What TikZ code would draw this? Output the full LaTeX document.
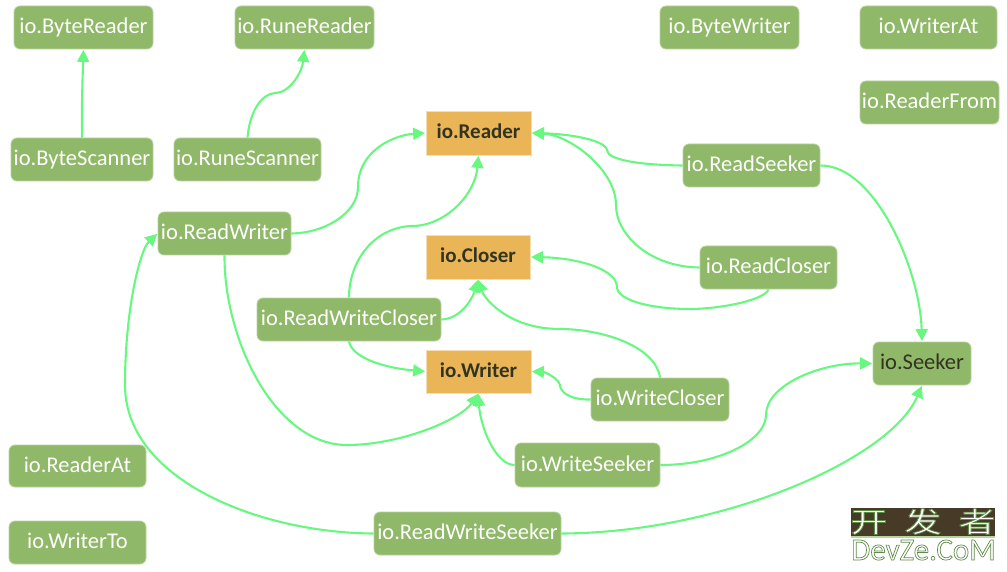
\documentclass[tikz,border=0pt]{standalone}
\usepackage{fontspec}
\usetikzlibrary{arrows.meta}
\setmainfont{Carlito}
\newfontfamily\cjkf{Noto Sans CJK SC}
\definecolor{grn}{HTML}{8FB868}
\definecolor{grnb}{HTML}{B9D3A0}
\definecolor{org}{HTML}{E9B556}
\definecolor{orgb}{HTML}{F4DDB0}
\definecolor{conn}{HTML}{68F880}
\definecolor{ink}{HTML}{333322}
\definecolor{wmb}{HTML}{473A26}
\definecolor{wmg}{HTML}{5F8C48}
\newcommand{\outl}{\special{pdf:code 2 Tr 0.7 w 0.37 0.55 0.28 RG}}
\tikzset{
  iface/.style={fill=grn,draw=grnb,line width=0.8pt,rounded corners=6pt,inner sep=0pt,text=white,font=\fontsize{22.5}{22.5}\selectfont},
  core/.style={fill=org,draw=orgb,line width=0.8pt,inner sep=0pt,text=ink,font=\bfseries\fontsize{21}{21}\selectfont},
  seek/.style={iface,text=ink},
  link/.style={draw=conn,line width=2.1pt,-{Triangle[length=12pt,width=12pt]},shorten >=0.5pt},
}
% name, x1, y1, x2, y2, style, text
\newcommand{\bx}[7]{\node[#6,minimum width={(#4-#2)*1pt},minimum height={(#5-#3)*1pt}] (#1) at ({(#2+#4)/2},{(#3+#5)/2}) {\raisebox{3pt}{#7}};}
\begin{document}
\begin{tikzpicture}[x=1pt,y=-1pt]
\useasboundingbox (0,0) rectangle (1007,572);
\bx{bytereader}{14}{6}{153}{49}{iface}{io.ByteReader}
\bx{runereader}{235}{6}{374}{49}{iface}{io.RuneReader}
\bx{bytewriter}{660}{6}{799}{49}{iface}{io.ByteWriter}
\bx{writerat}{860}{6}{997}{49}{iface}{io.WriterAt}
\bx{readerfrom}{860}{81}{999}{124}{iface}{io.ReaderFrom}
\bx{bytescanner}{11}{138}{153}{181}{iface}{io.ByteScanner}
\bx{runescanner}{174}{138}{321}{181}{iface}{io.RuneScanner}
\bx{readwriter}{158}{212}{291}{255}{iface}{io.ReadWriter}
\bx{readseeker}{683}{144}{820}{187}{iface}{io.ReadSeeker}
\bx{readcloser}{700}{246}{837}{289}{iface}{io.ReadCloser}
\bx{reader}{426}{111}{531}{155}{core}{io.Reader}
\bx{closer}{426}{235}{530}{279}{core}{io.Closer}
\bx{writer}{426}{350}{531}{393}{core}{io.Writer}
\bx{rwcloser}{257}{298}{441}{341}{iface}{io.ReadWriteCloser}
\bx{writecloser}{591}{378}{729}{421}{iface}{io.WriteCloser}
\bx{writeseeker}{515}{443}{660}{487}{iface}{io.WriteSeeker}
\bx{rwseeker}{374}{512}{561}{555}{iface}{io.ReadWriteSeeker}
\bx{readerat}{9}{445}{146}{487}{iface}{io.ReaderAt}
\bx{writerto}{9}{521}{146}{564}{iface}{io.WriterTo}
\bx{seeker}{873}{342}{971}{385}{seek}{io.Seeker}
% connectors
\draw[link] (bytescanner.north) .. controls (81.5,110) and (82.5,80) .. (bytereader.south);
\draw[link] (runescanner.north) .. controls (250,110) and (262,94) .. (275,93) .. controls (290,93) and (302,72) .. (runereader.south);
\draw[link] (readwriter.east) .. controls (325,233) and (358,213) .. (358,187) .. controls (358,150) and (395,135) .. (reader.west);
\draw[link] (rwcloser.north) .. controls (349,260) and (375,227) .. (412,226) .. controls (445,226) and (475,195) .. (reader.south);
\draw[link] (rwcloser.east) .. controls (460,319) and (472,300) .. (closer.south);
\draw[link] (rwcloser.south) .. controls (352,358) and (385,368) .. (writer.west);
\draw[link] (readwriter.south) .. controls (224,340) and (275,445) .. (347,445) .. controls (400,445) and (460,420) .. (writer.south);
\draw[link] (rwseeker.west) .. controls (260,533) and (125,480) .. (125,385) .. controls (125,310) and (140,250) .. (readwriter.west);
\draw[link] (rwseeker.east) .. controls (720,533) and (890,460) .. (seeker.south);
\draw[link] (readseeker.west) .. controls (640,165) and (607,160) .. (607,150) .. controls (605,140) and (570,134) .. (reader.east);
\draw[link] (readcloser.west) .. controls (650,267) and (616,235) .. (616,205) .. controls (616,170) and (570,135) .. (reader.east);
\draw[link] (readseeker.east) .. controls (875,165) and (920,270) .. (seeker.north);
\draw[link] (readcloser.south) .. controls (765,300) and (720,309) .. (690,309) .. controls (650,309) and (617,300) .. (617,287) .. controls (617,270) and (580,258) .. (closer.east);
\draw[link] (writecloser.north) .. controls (655,345) and (600,329) .. (560,329) .. controls (510,329) and (485,300) .. (closer.south);
\draw[link] (writecloser.west) .. controls (570,400) and (560,392) .. (560,385) .. controls (558,378) and (545,372) .. (writer.east);
\draw[link] (writeseeker.west) .. controls (495,465) and (480,425) .. (writer.south);
\draw[link] (writeseeker.east) .. controls (720,465) and (766,440) .. (766,415) .. controls (766,385) and (820,363) .. (seeker.west);
% watermark
\fill[wmb] (851,508) rectangle (995,536);
\fill[grnb] (851,536) rectangle (995,537.5);
\node[inner sep=0pt,text=white,font=\cjkf\fontsize{28}{28}\selectfont,xscale=1.32] (wmcn) at (923,521.5) {\outl 开\hspace{13pt}发\hspace{13pt}者};
\node[inner sep=0pt,text=white,font=\fontsize{31}{31}\selectfont] (wmen) at (923.5,550) {\outl DevZe.CoM};
\end{tikzpicture}
\end{document}
